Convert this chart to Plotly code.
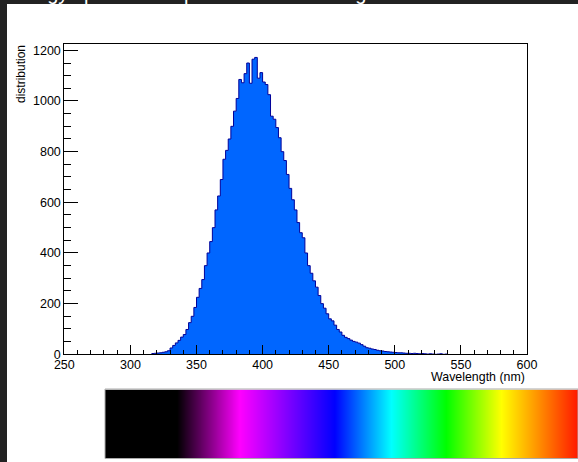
import plotly.graph_objects as go

# ---- data ----
bin_width = 2
bin_left_edges = list(range(316, 540, bin_width))
counts = [
    3, 4, 5, 6, 8, 10, 14, 25, 35, 45,
    55, 68, 78, 98, 125, 150, 185, 225, 260, 295,
    350, 400, 445, 500, 570, 625, 690, 770, 805, 850,
    900, 960, 1010, 1085, 1072, 1108, 1150, 1070, 1165, 1172,
    1090, 1112, 1075, 1065, 1025, 940, 928, 895, 855, 800,
    765, 710, 655, 610, 570, 520, 480, 460, 400, 350,
    320, 290, 265, 232, 200, 182, 160, 140, 132, 115,
    98, 88, 75, 67, 62, 56, 51, 48, 44, 38,
    32, 26, 24, 21, 19, 16, 14, 13, 11, 10,
    9, 8, 7, 6, 6, 5, 4, 4, 3, 4,
    3, 2, 3, 2, 1, 2, 1, 0, 1, 2,
    0, 1,
]
x_tick_values = [250, 300, 350, 400, 450, 500, 550, 600]
y_tick_values = [0, 200, 400, 600, 800, 1000, 1200]

# spectrum colour bar stops (fraction along bar, colour)
spectrum_stops = [0.0, 0.152, 0.285, 0.406, 0.486, 0.606, 0.722, 0.839, 1.0]
spectrum_colors = ["#000000", "#000000", "#ff00ff", "#6600ff", "#0000ff",
                   "#00ffff", "#00ff00", "#ffff00", "#ff1a00"]

# ---- figure ----
W, H = 578, 462
step_x = bin_left_edges + [bin_left_edges[-1] + bin_width]
step_y = counts + [counts[-1]]

fig = go.Figure()
fig.add_trace(go.Scatter(
    x=step_x, y=step_y, mode="lines", line_shape="hv",
    line=dict(color="#000099", width=1),
    fill="tozeroy", fillcolor="#0066ff",
    xaxis="x", yaxis="y", showlegend=False, hoverinfo="skip",
))

n_cols = 473
ramp = [[i / (n_cols - 1) for i in range(n_cols)]]
fig.add_trace(go.Heatmap(
    z=ramp, xaxis="x2", yaxis="y2", showscale=False,
    colorscale=[[s, c] for s, c in zip(spectrum_stops, spectrum_colors)],
    zmin=0, zmax=1, hoverinfo="skip",
))

font = "Liberation Sans, Arial, sans-serif"
fig.update_layout(
    width=W, height=H, autosize=False,
    margin=dict(l=0, r=0, t=0, b=0, pad=0, autoexpand=False),
    paper_bgcolor="white", plot_bgcolor="white",
    font=dict(family=font, size=12, color="black"),
    xaxis=dict(
        domain=[64.3 / W, 527 / W], range=[250, 600], automargin=False,
        tickvals=x_tick_values, ticks="inside", ticklen=9, tickcolor="black",
        minor=dict(dtick=10, tick0=250, ticks="inside", ticklen=4, tickcolor="black"),
        showline=True, linecolor="black", linewidth=1, mirror=True,
        showgrid=False, zeroline=False, anchor="y",
        tickfont=dict(size=12.5), ticklabelstandoff=-1,
    ),
    yaxis=dict(
        domain=[(H - 354.3) / H, (H - 44) / H], range=[0, 1225], automargin=False,
        tickvals=y_tick_values, ticks="inside", ticklen=14, tickcolor="black",
        minor=dict(dtick=50, tick0=0, ticks="inside", ticklen=7, tickcolor="black"),
        showline=True, linecolor="black", linewidth=1, mirror=True,
        showgrid=False, zeroline=False, anchor="x",
        tickfont=dict(size=12.5),
    ),
    xaxis2=dict(domain=[105 / W, 1.0], visible=False, anchor="y2", automargin=False,
                range=[-0.5, n_cols - 0.5]),
    yaxis2=dict(domain=[(H - 458) / H, (H - 389.5) / H], visible=False,
                anchor="x2", automargin=False, range=[-0.5, 0.5]),
    shapes=[
        dict(type="rect", xref="paper", yref="paper", x0=105 / W, x1=1.0,
             y0=(H - 458.5) / H, y1=(H - 389) / H,
             line=dict(color="#aaaaaa", width=1), fillcolor="rgba(0,0,0,0)"),
        dict(type="rect", xref="paper", yref="paper", x0=0, x1=7 / W, y0=0, y1=1,
             line=dict(width=0), fillcolor="#222222", layer="above"),
        dict(type="rect", xref="paper", yref="paper", x0=0, x1=1,
             y0=(H - 4) / H, y1=1,
             line=dict(width=0), fillcolor="#222222", layer="above"),
    ],
    annotations=[
        dict(text="Wavelength (nm)", xref="paper", yref="paper",
             x=526.5 / W, y=(H - 377) / H, xanchor="right", yanchor="middle",
             showarrow=False, font=dict(size=12.4, color="black")),
        dict(text="distribution", xref="paper", yref="paper",
             x=21 / W, y=(H - 43) / H, xanchor="center", yanchor="top",
             textangle=-90, showarrow=False, font=dict(size=12, color="black")),
        dict(text="Energy spectrum of photons in wavelength", xref="paper", yref="paper",
             x=3 / W, y=(H - 6) / H, xanchor="left", yanchor="bottom",
             showarrow=False, font=dict(size=20, color="white")),
    ],
)

fig.write_html("out.html", config={"responsive": False})
